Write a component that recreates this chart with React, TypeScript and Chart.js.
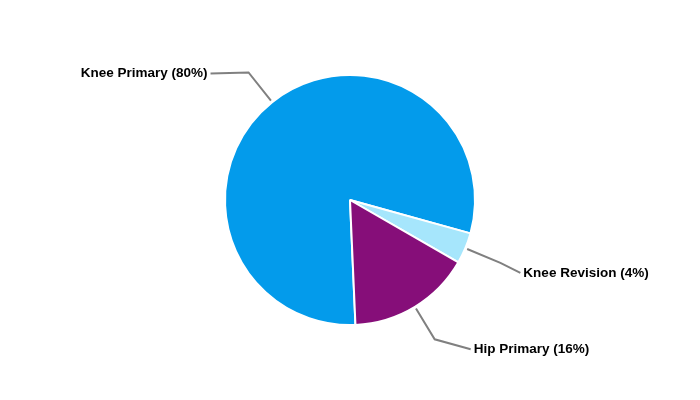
import React, { useEffect, useRef } from "react";
import { Chart, registerables } from "chart.js";

Chart.register(...registerables);

const categories = ["Knee Primary", "Knee Revision", "Hip Primary"];
const values = [80, 4, 16];
const sliceColors = ["#039BEB", "#A6E6FC", "#860E79"];

const leaderPlugin = {
  id: "leaderLabels",
  afterDatasetsDraw(chart: any, _args: any, opts: any) {
    const ctx = chart.ctx;
    const meta = chart.getDatasetMeta(0);
    const total = values.reduce((a, b) => a + b, 0);
    ctx.save();
    meta.data.forEach((arc: any, i: number) => {
      const { x, y, outerRadius, startAngle, endAngle } = arc.getProps(
        ["x", "y", "outerRadius", "startAngle", "endAngle"],
        true
      );
      const mid = (startAngle + endAngle) / 2;
      const cos = Math.cos(mid);
      const sin = Math.sin(mid);
      const p0x = x + cos * (outerRadius + 2);
      const p0y = y + sin * (outerRadius + 2);
      const p1x = x + cos * (outerRadius + opts.elbow);
      const p1y = y + sin * (outerRadius + opts.elbow);
      const off = opts.offsets[i];
      const right = cos >= 0;
      const p2x = p1x + off[0];
      const p2y = p1y + off[1];
      ctx.beginPath();
      ctx.strokeStyle = "#808080";
      ctx.lineWidth = 2;
      ctx.moveTo(p0x, p0y);
      ctx.lineTo(p1x, p1y);
      ctx.lineTo(p2x, p2y);
      ctx.stroke();
      const pct = Math.round((values[i] / total) * 100);
      ctx.font = "bold 13.5px 'Liberation Sans', Arial, sans-serif";
      ctx.fillStyle = "#000000";
      ctx.textBaseline = "middle";
      ctx.textAlign = right ? "left" : "right";
      ctx.fillText(`${categories[i]} (${pct}%)`, p2x + (right ? 3 : -3), p2y);
    });
    ctx.restore();
  },
};

export default function App() {
  const ref = useRef<HTMLCanvasElement | null>(null);
  useEffect(() => {
    document.body.style.margin = "0";
    const chart = new Chart(ref.current as HTMLCanvasElement, {
      type: "pie",
      data: {
        labels: categories,
        datasets: [
          {
            data: values,
            backgroundColor: sliceColors,
            borderColor: "#ffffff",
            borderWidth: 2,
          },
        ],
      },
      options: {
        responsive: false,
        animation: false,
        rotation: 177.5,
        layout: { padding: { top: 74, bottom: 74 } },
        plugins: {
          legend: { display: false },
          tooltip: { enabled: false },
          leaderLabels: {
            elbow: 38,
            offsets: [
              [-38, 1],
              [20, 10],
              [36, 10],
            ],
          },
        } as any,
      },
      plugins: [leaderPlugin],
    });
    return () => chart.destroy();
  }, []);
  return <canvas ref={ref} width={700} height={400} style={{ display: "block" }} />;
}
